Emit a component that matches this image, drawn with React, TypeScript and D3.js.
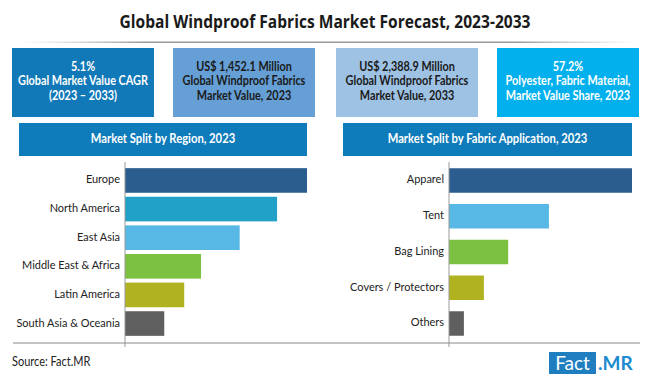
import React from "react";
import * as d3 from "d3";

const regionCategories = ["Europe", "North America", "East Asia", "Middle East & Africa", "Latin America", "South Asia & Oceania"];
const regionValues = [29.2, 24.4, 18.4, 12.2, 9.5, 6.3];
const regionColors = ["#2b5d8e", "#21a0c8", "#57b8e5", "#7cc142", "#b0b31f", "#5f5f5f"];

const appCategories = ["Apparel", "Tent", "Bag Lining", "Covers / Protectors", "Others"];
const appValues = [46.7, 25.5, 15.1, 8.9, 3.8];
const appColors = ["#2b5d8e", "#57b8e5", "#7cc142", "#b0b31f", "#5f5f5f"];

const kpiLines = [
  ["5.1%", "Global Market Value CAGR", "(2023 \u2013 2033)"],
  ["US$ 1,452.1 Million", "Global Windproof Fabrics", "Market Value, 2023"],
  ["US$ 2,388.9 Million", "Global Windproof Fabrics", "Market Value, 2033"],
  ["57.2%", "Polyester, Fabric Material,", "Market Value Share, 2023"],
];
const kpiFills = ["#1179b7", "#659fd5", "#9ec2e4", "#02b0ee"];
const kpiText = ["#ffffff", "#1a1a1a", "#1a1a1a", "#ffffff"];

const FONT = "Lato, 'Open Sans', sans-serif";

function NText({ x, y, sx = 0.88, children, ...rest }) {
  return (
    <g transform={`translate(${x},${y}) scale(${sx},1)`}>
      <text x={0} y={0} fontFamily={FONT} {...rest}>{children}</text>
    </g>
  );
}

function BarPanel({ cats, vals, colors, x0, x1, title, hx0, hx1, padIn, padOut, labelX }) {
  const y = d3.scaleBand().domain(cats).range([162, 342]).paddingInner(padIn).paddingOuter(padOut);
  const x = d3.scaleLinear().domain([0, d3.max(vals)]).range([x0, x1]);
  return (
    <g>
      <rect x={hx0} y={123} width={hx1 - hx0} height={33} fill="#0e7bba" />
      <NText x={(hx0 + hx1) / 2} y={140} sx={0.9} textAnchor="middle" dominantBaseline="middle" fill="#fff" fontWeight="bold" fontSize={12.5}>{title}</NText>
      {cats.map((c, i) => (
        <g key={c}>
          <rect x={x(0)} y={y(c)} width={x(vals[i]) - x(0)} height={y.bandwidth()} fill={colors[i]} />
          <NText x={labelX} y={y(c) + y.bandwidth() / 2} sx={0.93} textAnchor="end" dominantBaseline="middle" fontSize={11.8} fill="#222">{c}</NText>
        </g>
      ))}
      <line x1={x0} x2={x0} y1={162} y2={347} stroke="#999" strokeWidth={1} />
    </g>
  );
}

export default function App() {
  const boxX = [12, 173, 336, 497];
  return (
    <svg width={650} height={377} style={{ position: "absolute", left: 0, top: 0, background: "#fff" }}>
      <defs>
        <linearGradient id="tl" x1="0" x2="1" y1="0" y2="0">
          <stop offset="0" stopColor="#bbb" stopOpacity={0} />
          <stop offset="0.2" stopColor="#999" stopOpacity={1} />
          <stop offset="0.8" stopColor="#999" stopOpacity={1} />
          <stop offset="1" stopColor="#bbb" stopOpacity={0} />
        </linearGradient>
      </defs>
      <rect width={650} height={377} fill="#fff" />
      <text x={325} y={28} textAnchor="middle" fontSize={17.5} fontWeight="bold" fill="#1a1a1a" fontFamily="'Open Sans', sans-serif" textLength={411} lengthAdjust="spacingAndGlyphs">Global Windproof Fabrics Market Forecast, 2023-2033</text>
      <rect x={20} y={41.5} width={620} height={1.5} fill="url(#tl)" />
      {kpiLines.map((lines, i) => (
        <g key={i}>
          <rect x={boxX[i]} y={48} width={142} height={69} fill={kpiFills[i]} />
          {lines.map((t, j) => (
            <NText key={j} x={boxX[i] + 71} y={67.5 + j * 14.5} sx={0.85} textAnchor="middle" dominantBaseline="middle" fontSize={12.8} fontWeight="bold" fill={kpiText[i]}>{t}</NText>
          ))}
        </g>
      ))}
      <BarPanel cats={regionCategories} vals={regionValues} colors={regionColors} x0={125} x1={307} title="Market Split by Region, 2023" hx0={19} hx1={307} padIn={0.14} padOut={0.215} labelX={120} />
      <BarPanel cats={appCategories} vals={appValues} colors={appColors} x0={449} x1={632} title="Market Split by Fabric Application, 2023" hx0={343} hx1={632} padIn={0.315} padOut={0.175} labelX={444} />
      <line x1={13} x2={640} y1={343} y2={343} stroke="#888" strokeWidth={1} />
      <NText x={12} y={366} sx={0.88} fontSize={12.5} fill="#222">Source: Fact.MR</NText>
      <rect x={549} y={352} width={47} height={22} fill="#1f7ec0" />
      <text x={572.5} y={370} textAnchor="middle" fontSize={19} fill="#fff" fontFamily={FONT}>Fact</text>
      <text x={598} y={370} fontSize={19} fontWeight="bold" fill="#1d8bd0" fontFamily={FONT}>.MR</text>
    </svg>
  );
}
